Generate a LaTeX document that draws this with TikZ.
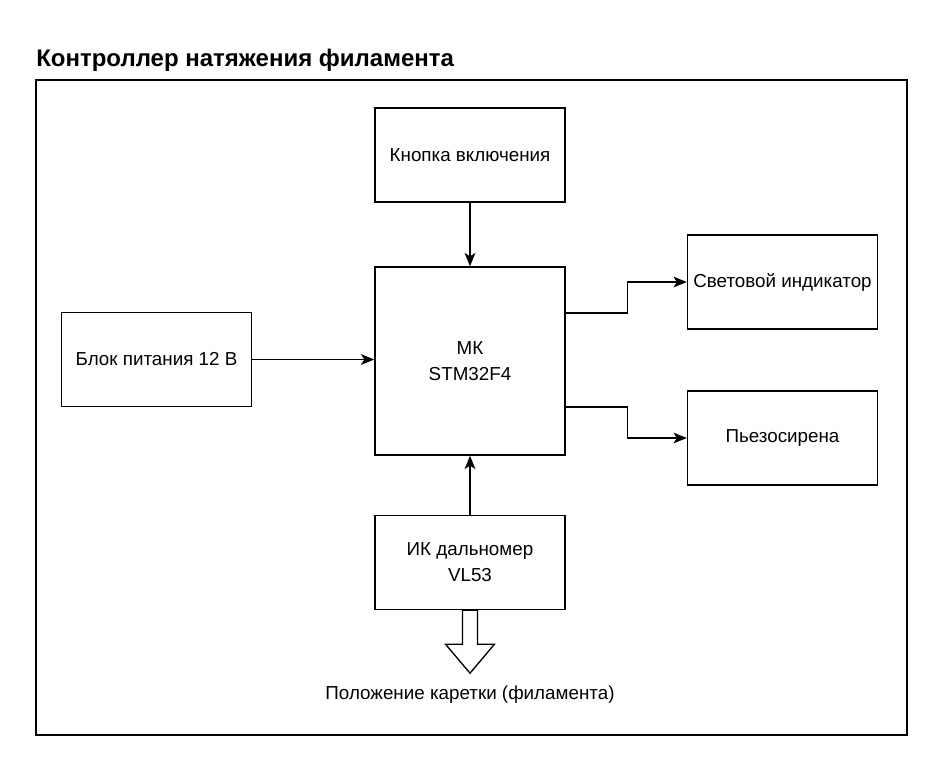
\documentclass[tikz,border=0pt]{standalone}
\usepackage{fontspec}
\setmainfont{Liberation Sans}
\usetikzlibrary{arrows.meta}

\begin{document}
\begin{tikzpicture}
[x=0.75pt,y=-0.75pt,
  blockdecorate/.style={shape=rectangle,draw,line width=1pt,
    minimum width=142.5pt,minimum height=70.5pt,align=center,
    font=\fontsize{14.1}{19.5}\selectfont},%
  linedecorate/.style={-{Stealth[length=10pt,width=8pt,inset=2.5pt]},line width=1pt}]
\useasboundingbox (0,0) rectangle (942,768);
%% frame and title
\draw[line width=1pt] (36,80) rectangle (907,735);
\node (title) [anchor=base west,inner sep=0pt,font=\bfseries\fontsize{18}{21}\selectfont]
  at (36,66) {Контроллер натяжения филамента};
%% blocks
\foreach \nodename/\x/\y/\caption in {knopka/470/155/Кнопка включения,
  blok/156.5/359.5/Блок питания 12 В, svet/782.5/282/Световой индикатор,
  piezo/782.5/438/Пьезосирена, ik/470/562.5/ИК дальномер\\VL53} {
  \node (\nodename) at (\x,\y) [blockdecorate] {\caption};
}
\node (mk) at (470,361) [blockdecorate,minimum height=141pt] {МК\\STM32F4};
%% connections
\draw[linedecorate] (knopka) -- (mk);
\draw[linedecorate] (ik) -- (mk);
\draw[linedecorate] (blok.east) -- (blok.east -| mk.west);
\draw[linedecorate] ([yshift=36pt]mk.east) -- ++(62,0) |- (svet.west);
\draw[linedecorate] ([yshift=-34.5pt]mk.east) -- ++(62,0) |- (piezo.west);
%% output arrow
\draw[line width=1pt,fill=white] (ik.south) ++(-7.5,0) -- ++(0,34) -- ++(-17,0)
  -- ++(24.5,29) -- ++(24.5,-29) -- ++(-17,0) -- ++(0,-34) -- cycle;
\node (place) at (470,695) [font=\fontsize{14.1}{17}\selectfont] {Положение каретки (филамента)};
\end{tikzpicture}
\end{document}
